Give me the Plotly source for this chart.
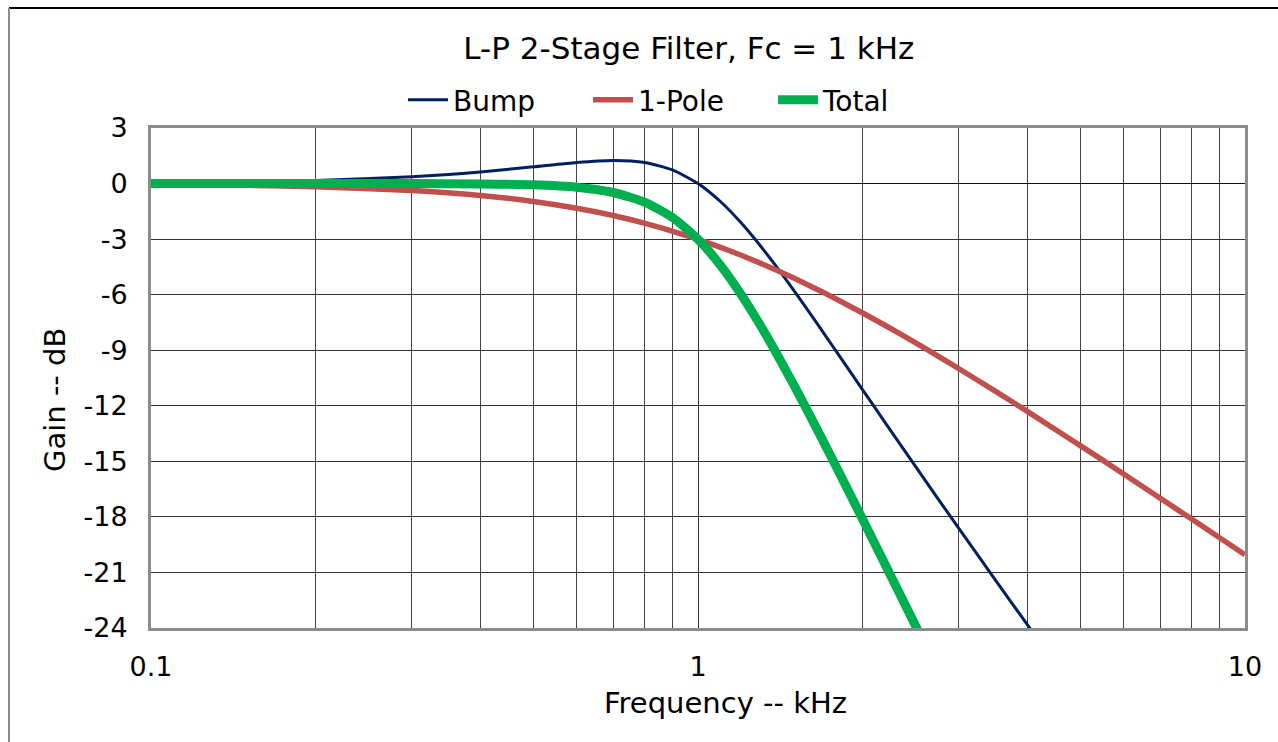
import plotly.graph_objects as go

freq = [0.1, 0.15, 0.2, 0.3, 0.4, 0.5, 0.6, 0.7, 0.8, 0.9, 1.0, 1.1, 1.2, 1.3, 1.4, 1.5, 1.6, 1.7, 1.8, 2.0, 2.2, 2.5, 2.8, 3.0, 3.5, 4.0, 4.5, 5.0, 6.0, 7.0, 8.0, 9.0, 10.0]
bump = [0.043, 0.097, 0.170, 0.371, 0.627, 0.902, 1.138, 1.249, 1.138, 0.726, 0.0, -0.983, -2.131, -3.357, -4.596, -5.812, -6.984, -8.104, -9.169, -11.139, -12.919, -15.291, -17.374, -18.633, -21.424, -23.820, -25.92, -27.8, -31.0, -33.6, -35.9, -38.0, -40.0]
one_pole = [-0.043, -0.097, -0.170, -0.374, -0.645, -0.969, -1.335, -1.727, -2.148, -2.577, -3.010, -3.444, -3.874, -4.298, -4.713, -5.119, -5.514, -5.899, -6.274, -6.990, -7.664, -8.603, -9.465, -10.000, -11.222, -12.304, -13.28, -14.150, -15.682, -16.990, -18.129, -19.138, -20.043]
total = [0.0, 0.0, -0.0003, -0.003, -0.018, -0.067, -0.198, -0.483, -1.011, -1.851, -3.010, -4.427, -6.006, -7.654, -9.309, -10.931, -12.499, -14.003, -15.442, -18.129, -20.584, -23.894, -26.838, -28.633, -32.65, -36.12, -39.2, -41.95, -46.7, -50.7, -54.2, -57.3, -60.0]

x_ticks = [0.1, 1, 10]
x_ticktext = ["0.1", "1", "10"]
x_minor = [0.2, 0.3, 0.4, 0.5, 0.6, 0.7, 0.8, 0.9, 2, 3, 4, 5, 6, 7, 8, 9]
y_ticks = [3, 0, -3, -6, -9, -12, -15, -18, -21, -24]
y_ticktext = ["3", "0", "-3", "-6", "-9", "-12", "-15", "-18", "-21", "-24"]

FONT = "DejaVu Sans"
PL, PT, PW, PH = 151, 128, 1094, 500  # plot area in px


def px_x(px):
    return (px - PL) / PW


def px_y(py):
    return (PT + PH - py) / PH


fig = go.Figure()
fig.add_trace(go.Scatter(x=freq, y=bump, name="Bump", mode="lines",
                         line=dict(color="#002060", width=3, shape="spline", smoothing=0.6)))
fig.add_trace(go.Scatter(x=freq, y=one_pole, name="1-Pole", mode="lines",
                         line=dict(color="#C0504D", width=5.5, shape="spline", smoothing=0.6)))
fig.add_trace(go.Scatter(x=freq, y=total, name="Total", mode="lines",
                         line=dict(color="#00B050", width=9, shape="spline", smoothing=0.6)))

fig.update_layout(
    width=1278, height=742,
    margin=dict(l=PL, r=1278 - PL - PW, t=PT, b=742 - PT - PH),
    paper_bgcolor="white", plot_bgcolor="white",
    font=dict(family=FONT, color="black", size=27),
    title=dict(text="L-P 2-Stage Filter, Fc = 1 kHz", x=0.539, xanchor="center",
               y=0.935, yanchor="middle", font=dict(size=31, family=FONT)),
    legend=dict(orientation="h", x=px_x(403), xanchor="left", y=px_y(100), yanchor="middle",
                font=dict(size=28, family=FONT), itemwidth=40, tracegroupgap=0,
                entrywidth=130, entrywidthmode="pixels",
                bgcolor="rgba(0,0,0,0)"),
    showlegend=True,
)

fig.update_xaxes(
    type="log", range=[-1, 1],
    tickvals=x_ticks, ticktext=x_ticktext,
    showgrid=True, gridcolor="#333333", gridwidth=1,
    minor=dict(tickvals=x_minor, showgrid=True, gridcolor="#444444", gridwidth=1),
    showline=True, linecolor="#8c8c8c", linewidth=3, mirror=True,
    ticks="", ticklabelstandoff=13,
    tickfont=dict(size=27, family=FONT),
    zeroline=False,
)
fig.update_yaxes(
    range=[-24, 3], tickvals=y_ticks, ticktext=y_ticktext,
    showgrid=True, gridcolor="#333333", gridwidth=1,
    showline=True, linecolor="#8c8c8c", linewidth=3, mirror=True,
    zeroline=True, zerolinecolor="#111111", zerolinewidth=1,
    ticks="", ticklabelstandoff=15,
    tickfont=dict(size=27, family=FONT),
)

fig.add_annotation(text="Frequency -- kHz", xref="paper", yref="paper",
                   x=px_x(725), y=px_y(703), xanchor="center", yanchor="middle",
                   showarrow=False, font=dict(size=29, family=FONT))
fig.add_annotation(text="Gain -- dB", xref="paper", yref="paper",
                   x=px_x(55), y=px_y(400), xanchor="center", yanchor="middle",
                   textangle=-90, showarrow=False, font=dict(size=29, family=FONT))

# Outer chart-area frame (top and left edges visible in reference)
fig.add_shape(type="line", xref="paper", yref="paper",
              x0=px_x(9), x1=px_x(1278), y0=px_y(8), y1=px_y(8),
              line=dict(color="black", width=2))
fig.add_shape(type="line", xref="paper", yref="paper",
              x0=px_x(9), x1=px_x(9), y0=px_y(8), y1=px_y(745),
              line=dict(color="#8c8c8c", width=2))

fig.write_html("out.html")
